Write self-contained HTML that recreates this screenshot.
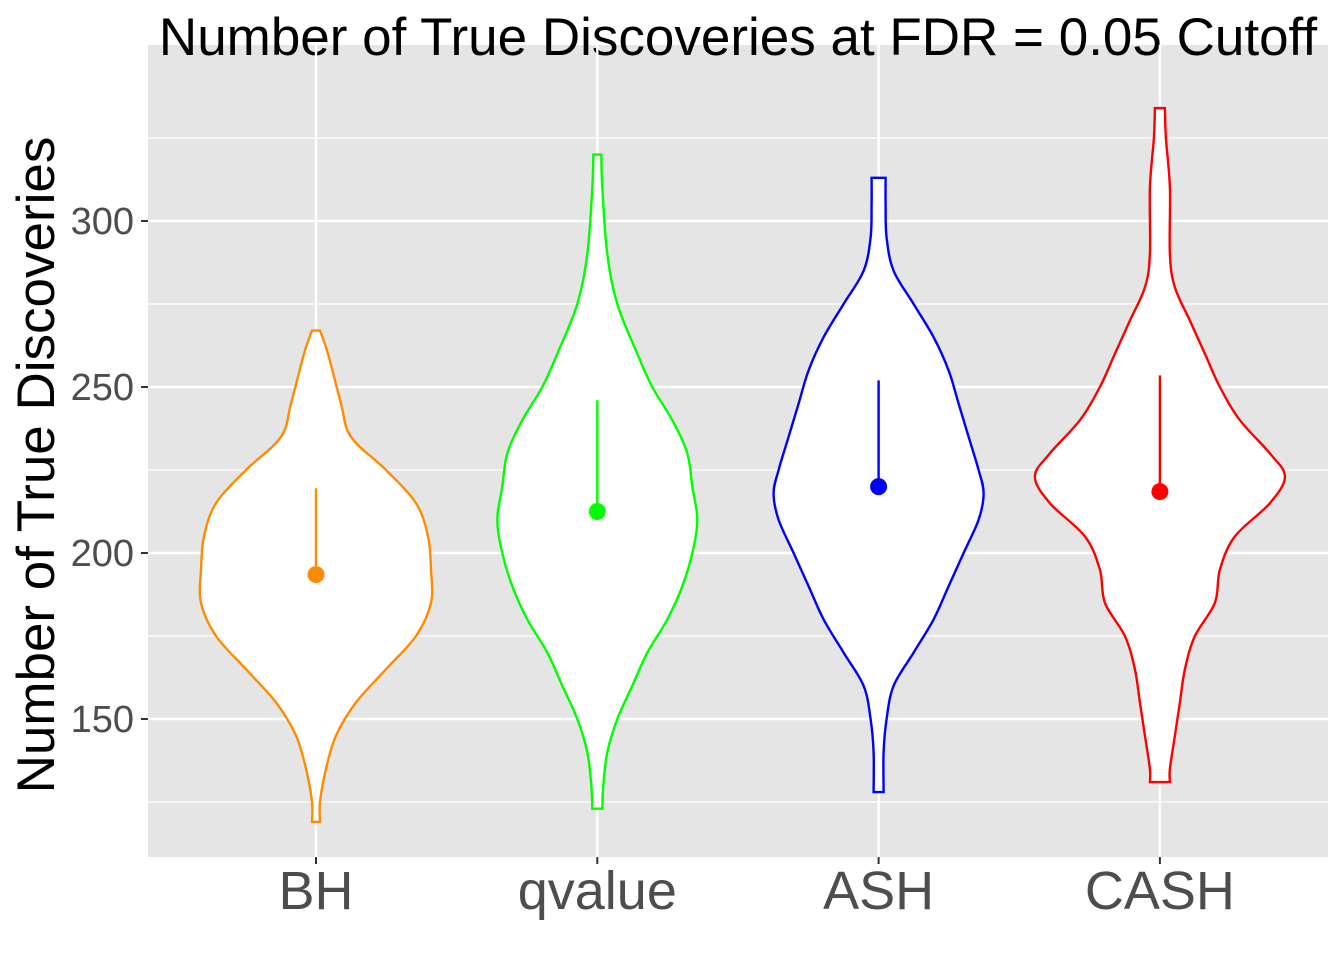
<!DOCTYPE html>
<html><head><meta charset="utf-8"><style>
body{margin:0;background:#fff}
svg{display:block;font-family:"Liberation Sans",Arial,sans-serif}
</style></head><body>
<svg id="chart" width="1344" height="960">
<rect x="148" y="45" width="1180" height="812" fill="#e5e5e5"/>
<text x="738" y="55" font-size="53" text-anchor="middle" fill="#000">Number of True Discoveries at FDR = 0.05 Cutoff</text>
<text transform="translate(54,465) rotate(-90)" font-size="53" text-anchor="middle" fill="#000">Number of True Discoveries</text>
<g id="grid"></g><g id="marks"></g><g id="axes"></g>
</svg>
<script>
const categories=["BH","qvalue","ASH","CASH"];
const colors=["#ff8c00","#00ff00","#0000ff","#ff0000"];
const medians=[193.5,212.5,220,218.5];
const upperLine=[219.5,246,252,253.5];
const yTicks=[150,200,250,300];
const yMinor=[125,175,225,275,325];
const densBH=[[119,4],[125,4],[135,10],[145,20],[155,40],[165,70],[175,100],[185,115],[195,115],[205,112],[215,100],[225,70],[235,35],[245,25],[260,12],[267,4]];
const densQ=[[123,5],[130,6],[140,10],[150,20],[160,35],[170,50],[180,70],[190,85],[200,95],[210,100],[220,95],[230,90],[240,75],[250,55],[260,40],[275,20],[290,10],[310,5],[320,4]];
const densASH=[[128,5],[140,5],[150,8],[160,15],[170,35],[180,55],[190,70],[200,85],[210,100],[218,105],[225,100],[235,90],[245,80],[255,70],[265,55],[275,35],[285,15],[295,8],[305,7],[313,7]];
const densCASH=[[131,10],[135,10],[145,15],[155,20],[165,25],[175,35],[185,55],[195,60],[205,75],[215,110],[223,125],[230,110],[240,80],[250,60],[260,45],[270,30],[280,15],[290,10],[310,10],[325,6],[334,5]];
const dens=[densBH,densQ,densASH,densCASH];
const NS="http://www.w3.org/2000/svg";
const y=v=>553-(v-200)*3.32;
const x=i=>316+i*281.3;
function mk(t,a,p){const e=document.createElementNS(NS,t);for(const k in a)e.setAttribute(k,a[k]);p.appendChild(e);return e;}
const grid=document.getElementById('grid'),marks=document.getElementById('marks'),axes=document.getElementById('axes');
yMinor.forEach(v=>{const l=mk('line',{x1:148,x2:1328,y1:y(v),y2:y(v),stroke:'#fff','stroke-width':1.2},grid);

});
yTicks.forEach(v=>{const l=mk('line',{x1:148,x2:1328,y1:y(v),y2:y(v),stroke:'#fff','stroke-width':2.4},grid);


mk('line',{x1:141,x2:148,y1:y(v),y2:y(v),stroke:'#333','stroke-width':2},axes);
const t=mk('text',{x:134,y:y(v)+13,'font-size':38,'text-anchor':'end',fill:'#4d4d4d'},axes);t.textContent=v;

});
categories.forEach((c,i)=>{const l=mk('line',{x1:x(i),x2:x(i),y1:45,y2:857,stroke:'#fff','stroke-width':2.4},grid);


mk('line',{x1:x(i),x2:x(i),y1:857,y2:864,stroke:'#333','stroke-width':2},axes);
const t=mk('text',{x:x(i),y:909,'font-size':54,'text-anchor':'middle',fill:'#4d4d4d'},axes);t.textContent=c;


const d=dens[i];const right=d.map(p=>[x(i)+p[1],y(p[0])]);
function smooth(pts){let s='';for(let k=0;k<pts.length-1;k++){const p0=pts[Math.max(k-1,0)],p1=pts[k],p2=pts[k+1],p3=pts[Math.min(k+2,pts.length-1)];
s+=` C${p1[0]+(p2[0]-p0[0])/6},${p1[1]+(p2[1]-p0[1])/6} ${p2[0]-(p3[0]-p1[0])/6},${p2[1]-(p3[1]-p1[1])/6} ${p2[0]},${p2[1]}`;}return s;}
const left=d.map(p=>[x(i)-p[1],y(p[0])]).reverse();
const path=`M${right[0][0]},${right[0][1]}`+smooth(right)+` L${left[0][0]},${left[0][1]}`+smooth(left)+'Z';
const v=mk('path',{d:path,fill:'#fff',stroke:colors[i],'stroke-width':2.4},marks);


const ln=mk('line',{x1:x(i),x2:x(i),y1:y(medians[i]),y2:y(upperLine[i]),stroke:colors[i],'stroke-width':2.4},marks);


const pt=mk('circle',{cx:x(i),cy:y(medians[i]),r:8.5,fill:colors[i]},marks);


});
</script>
</body></html>
